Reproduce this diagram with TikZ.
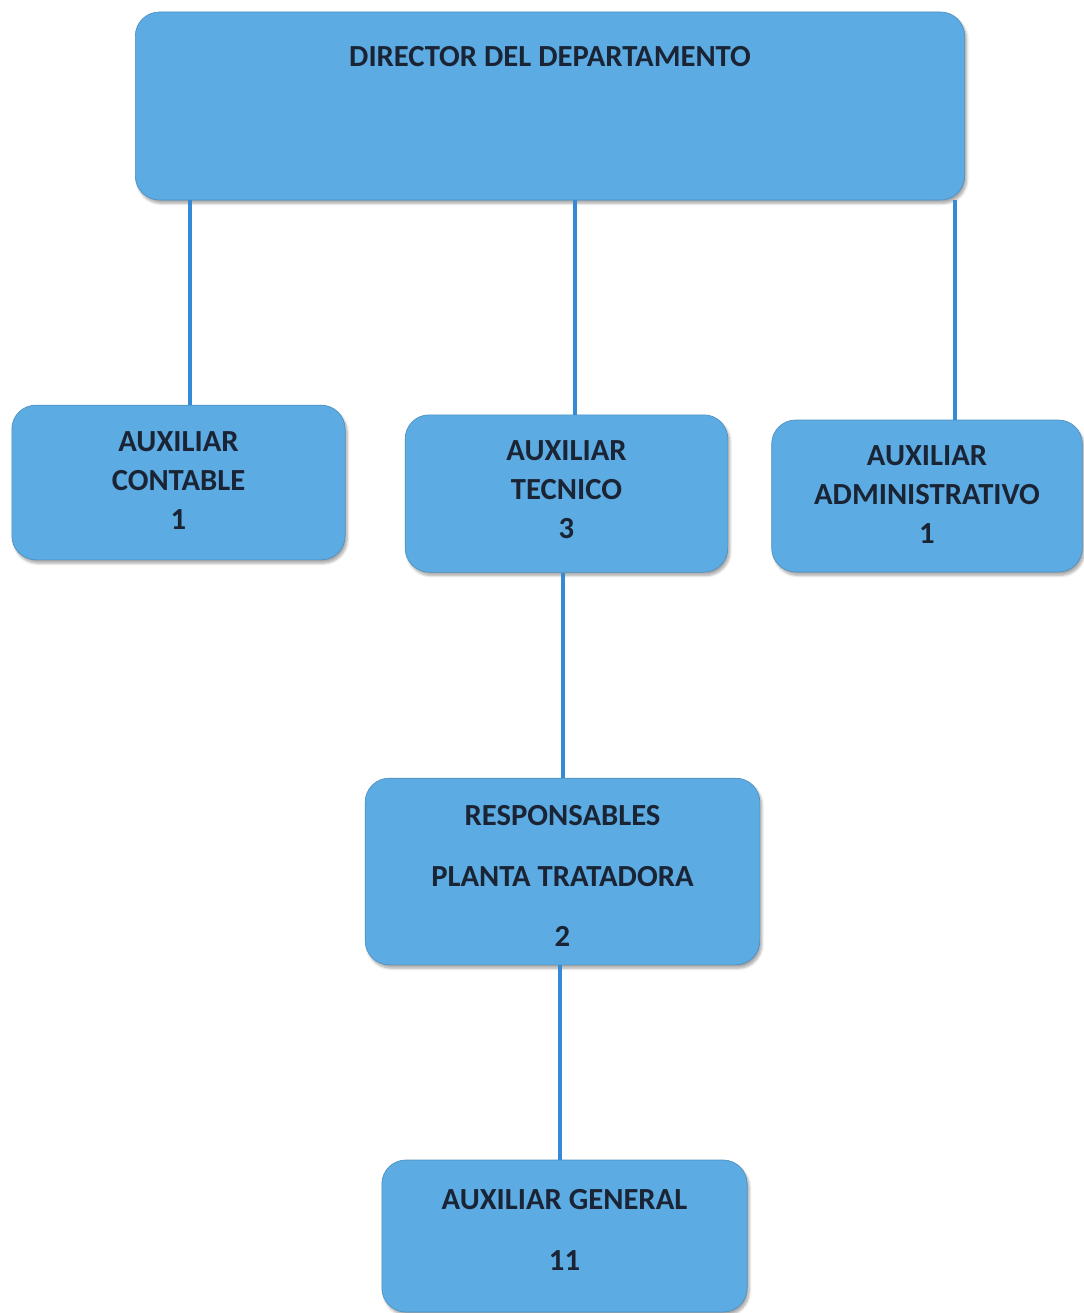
\documentclass[tikz,border=0pt]{standalone}
\usepackage{fontspec}
\setmainfont{Carlito}
\usetikzlibrary{shadows.blur}
\definecolor{boxblue}{RGB}{92,171,226}
\definecolor{linkblue}{RGB}{52,138,212}
\definecolor{txtdark}{RGB}{26,36,52}
\tikzset{every picture/.style={line width=0.75pt}}
\tikzset{
  box/.style={draw=boxblue!85!black, line width=0.5pt, fill=boxblue, rounded corners=18pt, inner sep=0pt,
    blur shadow={shadow xshift=1.5pt, shadow yshift=-2.5pt, shadow blur steps=6, shadow opacity=35}},
  lbl/.style={inner sep=0pt, align=center, text=txtdark, font=\bfseries\fontsize{23}{29.25}\selectfont},
  lblwide/.style={lbl, font=\bfseries\fontsize{23}{45.5}\selectfont},
  link/.style={draw=linkblue, line width=3pt}
}

\begin{document}
\begin{tikzpicture}[x=0.75pt,y=0.75pt,yscale=-1,xscale=1]
\useasboundingbox (0,0) rectangle (1083,1313);

% Text Node
\node [box, minimum width=622pt, minimum height=141pt] (dir) at (550,106) {};
\node [lbl] (dirT) at (550,57) {DIRECTOR DEL DEPARTAMENTO};
% Text Node
\node [box, minimum width=250pt, minimum height=116pt] (cont) at (178.5,482.5) {};
\node [lbl] (contT) at (178.5,481) {AUXILIAR\\CONTABLE\\1};
% Text Node
\node [box, minimum width=242pt, minimum height=118pt] (tec) at (566.5,493.5) {};
\node [lbl] (tecT) at (566.5,490) {AUXILIAR\\TECNICO\\3};
% Text Node
\node [box, minimum width=233pt, minimum height=114pt] (adm) at (927,496) {};
\node [lbl] (admT) at (927,495) {AUXILIAR\\ADMINISTRATIVO\\1};
% Text Node
\node [box, minimum width=296pt, minimum height=140pt] (resp) at (562.5,871.5) {};
\node [lblwide] (respT) at (562.5,876) {RESPONSABLES\\PLANTA TRATADORA\\2};
% Text Node
\node [box, minimum width=274pt, minimum height=114pt] (gen) at (564.5,1236) {};
\node [lblwide] (genT) at (564.5,1230) {AUXILIAR GENERAL\\11};

\coordinate (x1) at (190,0);
\coordinate (x2) at (575,0);
\coordinate (x3) at (955,0);
\coordinate (x4) at (563,0);
\coordinate (x5) at (560,0);

% Connection
\draw [link] (dir.south -| x1) -- (cont.north -| x1);
% Connection
\draw [link] (dir.south -| x2) -- (tec.north -| x2);
% Connection
\draw [link] (dir.south -| x3) -- (adm.north -| x3);
% Connection
\draw [link] (tec.south -| x4) -- (resp.north -| x4);
% Connection
\draw [link] (resp.south -| x5) -- (gen.north -| x5);

\end{tikzpicture}
\end{document}
